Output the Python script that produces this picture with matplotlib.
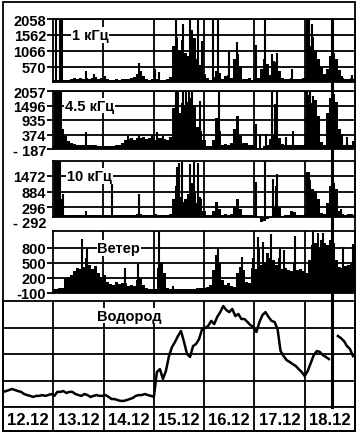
import matplotlib
matplotlib.use("Agg")
import matplotlib.pyplot as plt
import numpy as np
from matplotlib.lines import Line2D
from matplotlib.patches import Rectangle

plt.rcParams["font.family"] = ["Liberation Sans", "DejaVu Sans"]
plt.rcParams["font.weight"] = "bold"

# time axis in days since 12.12 00:00, 0.06 day sampling
t_top = 1 + 0.06 * np.arange(101)
t_h2 = 0.06 * np.arange(117)
dates = ["12.12", "13.12", "14.12", "15.12", "16.12", "17.12", "18.12"]
event_day = 6.54

# ---- 1 kHz
f1_vals = [150, 150, 150, 150, 140, 160, 180, 200, 170, 220, 190, 230, 180, 210, 250, 170, 200, 230, 180, 160,
           150, 170, 160, 180, 190, 170, 200, 240, 330, 420, 280, 180, 160, 170, 190, 170, 150, 160, 180, 260,
           1200, 1500, 1100, 1400, 1000, 900, 1700, 1450, 800, 620, 330, 200, 160, 250, 430, 380, 170, 280, 320, 200,
           800, 950, 600, 180, 170, 200, 160, 190, 220, 500, 800, 650, 300, 750, 700, 420, 220, 180, 170, 200,
           180, 190, 170, 200, 220, 1200, 1500, 1100, 800, 550, 350, 500, 900, 1000, 800, 450, 220, 180, 170, 200,
           190]
f1_spk_t = [1.06, 1.13, 1.18, 1.66, 1.82, 2.04, 2.71, 3.03, 3.11, 3.45, 3.59, 3.73, 3.89, 3.97, 4.17, 4.27,
            4.49, 4.65, 5.03, 5.21, 5.35, 5.45, 5.74, 6.04, 6.08, 6.14, 6.74, 6.94]
f1_spk_v = [2058, 2058, 2058, 430, 340, 280, 680, 500, 400, 2058, 1900, 2058, 2058, 1370, 2058, 2058,
            1060, 1340, 1250, 2058, 960, 990, 500, 2058, 2058, 1900, 280, 300]

# ---- 4.5 kHz
f2_vals = [-60, 800, 900, 600, 300, 120, 40, 0, -20, -30, -40, -40, -50, -50, -50, -60, -60, -60, -70, -70,
           -60, -50, -40, 60, 150, 200, 240, 180, 250, 220, 260, 200, 230, 250, 180, 220, 250, 200, 150, 280,
           1400, 1700, 1200, 1600, 1500, 1650, 1800, 1500, 650, 500, 150, -60, -80, 150, 1000, 500, -40, 0, -30, 30,
           600, 1100, 300, 30, 60, -20, -40, -100, -180, -150, -80, -20, 200, 350, 400, 250, 0, -30, -40, -30,
           -40, -40, -30, -40, 400, 1900, 1600, 1700, 1100, 100, -40, 1200, 1800, 1950, 1650, 600, -30, -40, -30, -40,
           -40]
f2_spk_t = [1.04, 1.08, 1.12, 1.16, 1.66, 2.49, 2.71, 2.97, 3.07, 3.19, 3.45, 3.49, 3.59, 3.65, 3.71, 3.77,
            3.93, 4.29, 5.03, 5.11, 5.23, 5.35, 5.41, 5.45, 5.63, 5.76, 6.04, 6.10, 6.16, 6.74, 6.84, 6.96]
f2_spk_v = [2057, 2057, 2057, 2057, 470, 300, 370, 350, 470, 300, 2057, 2057, 2057, 2057, 2057, 2057,
            1670, 2057, 780, 390, 390, 2000, 1550, 2000, 280, 510, 2057, 2057, 1860, 390, 280, 120]

# ---- 10 kHz
f3_vals = [10, 10, 10, 300, 20, 10, 10, 15, 10, 10, 20, 30, 25, 20, 30, 25, 20, 15, 25, 20,
           10, 15, 10, 20, 15, 25, 20, 30, 40, 60, 30, 20, 10, 20, 60, 30, 20, 15, 20, 40,
           600, 1100, 700, 500, 600, 800, 1200, 850, 450, 600, 150, 20, 15, 150, 500, 250, 15, 60, 20, 40,
           300, 600, 250, 20, 15, 20, 10, 0, -100, -230, -200, -140, -80, 300, 500, 300, -20, 0, 20, 150,
           120, 30, 25, 30, 40, 1300, 1000, 900, 600, 80, 60, 450, 1100, 1200, 1000, 150, 60, 30, 50, 40,
           30]
f3_spk_t = [1.04, 1.08, 1.11, 1.14, 1.18, 1.20, 1.66, 2.18, 2.71, 3.47, 3.51, 3.57, 3.73, 3.81, 3.89, 3.93,
            5.03, 5.21, 5.37, 5.43, 5.45, 6.04, 6.08, 6.72]
f3_spk_v = [2023, 2023, 2023, 2023, 610, 800, 160, 1430, 800, 1800, 1950, 1990, 1910, 1990, 1950, 680,
            1240, 2023, 1350, 1090, 1540, 1610, 1610, 240]

# ---- wind
w_vals = [-20, -20, -10, 0, 170, 210, 250, 330, 400, 380, 420, 600, 450, 380, 430, 300, 220, 260, 110, 80,
          60, 120, 70, 90, 100, 40, 60, 30, 150, 200, 60, 0, -20, -30, -20, 400, 500, 300, -10, -20,
          -20, -30, -30, -30, -30, -30, -30, -20, -10, 0, -10, 20, 60, 350, 650, 500, 150, 60, 100, 40,
          20, 300, 420, 350, 120, 100, 400, 380, 800, 450, 500, 700, 600, 560, 450, 600, 380, 400, 350, 330,
          500, 350, 380, 330, 300, 550, 850, 900, 800, 950, 900, 850, 950, 900, 550, 420, 400, 430, 450, 480,
          550]
w_spk_t = [1.58, 1.68, 2.44, 2.69, 3.11, 3.39, 4.27, 4.75, 4.97, 5.07, 5.17, 5.33, 5.50, 5.58, 5.80,
           6.16, 6.26, 6.36, 6.76, 6.96]
w_spk_v = [980, 780, 390, 480, 1130, 30, 780, 620, 600, 1010, 920, 1080, 820, 760, 1040,
           1130, 1100, 1100, 820, 880]

# ---- hydrogen (relative units, 4 grid bands)
h2_vals = [0.57, 0.60, 0.64, 0.68, 0.64, 0.60, 0.57, 0.49, 0.45, 0.42, 0.38, 0.42, 0.42, 0.45, 0.42, 0.45,
           0.49, 0.42, 0.57, 0.57, 0.60, 0.53, 0.57, 0.57, 0.49, 0.45, 0.42, 0.49, 0.45, 0.38, 0.42, 0.45,
           0.42, 0.42, 0.45, 0.38, 0.30, 0.30, 0.26, 0.23, 0.23, 0.26, 0.30, 0.34, 0.42, 0.45, 0.45, 0.49,
           0.45, 0.42, 0.38, 1.32, 1.43, 1.06, 1.36, 1.92, 2.26, 2.45, 2.68, 2.87, 2.45, 2.00, 1.89, 2.30,
           2.38, 2.57, 2.94, 2.98, 3.06, 3.25, 3.13, 3.40, 3.58, 3.81, 3.66, 3.58, 3.70, 3.43, 3.51, 3.32,
           3.32, 3.21, 3.09, 3.02, 2.83, 3.21, 3.47, 3.58, 3.40, 3.25, 3.21, 2.94, 2.11, 1.92, 1.77, 1.70,
           1.62, 1.55, 1.43, 1.32, 1.17, 1.36, 1.66, 1.96, 2.11, 2.08, 1.96, 1.89, 1.81, np.nan, np.nan, 2.68,
           2.60, 2.49, 2.30, 2.19, 1.92]

W, H = 360, 435
fig = plt.figure(figsize=(W / 100, H / 100), dpi=100)


def box(x0, y0, x1, y1):
    return [x0 / W, 1 - y1 / H, (x1 - x0) / W, (y1 - y0) / H]


panels = [
    (box(53, 20, 355, 83), f1_vals, f1_spk_t, f1_spk_v, (90, 2058), [2058, 1562, 1066, 570],
     ["2058", "1562", "1066", "570"], "1 кГц", 1.38, 1562),
    (box(53, 92, 355, 150), f2_vals, f2_spk_t, f2_spk_v, (-187, 2057), [2057, 1496, 935, 374, -187],
     ["2057", "1496", "935", "374", "- 187"], "4.5 кГц", 1.24, 1496),
    (box(53, 162, 355, 218), f3_vals, f3_spk_t, f3_spk_v, (-60, 2023), [1472, 884, 296],
     ["1472", "884", "296"], "10 кГц", 1.28, 1472),
    (box(53, 232, 355, 294), w_vals, w_spk_t, w_spk_v, (-105, 1140), [800, 500, 200, -100],
     ["800", "500", "200", "-100"], "Ветер", 1.88, 800),
]

axes = []
for pos, vals, st, sv, ylim, ticks, labels, name, lx, ly in panels:
    ax = fig.add_axes(pos)
    ax.set_xlim(1, 7)
    ax.set_ylim(*ylim)
    ax.fill_between(t_top, ylim[0], vals, step="mid", color="black", lw=0,
                    clip_on=(name != "10 кГц"))
    ax.vlines(st, ylim[0], sv, color="black", lw=1.5)
    ax.set_yticks(ticks)
    ax.set_yticklabels(labels)
    ax.set_xticks([])
    for d in range(2, 7):
        ax.axvline(d, color="black", lw=1.3, zorder=1)
    for v in ticks:
        ax.axhline(v, color="black", lw=1.3, zorder=1)
    ax.tick_params(axis="y", length=4, width=1.3, pad=1, labelsize=10.5)
    for s in ax.spines.values():
        s.set_linewidth(1.3)
    ax.text(lx, ly, name, fontsize=10.5, fontweight="bold", va="center", ha="left", zorder=5,
            bbox=dict(facecolor="white", edgecolor="none", pad=0.5))
    axes.append(ax)

axes[2].annotate("- 292", xy=(0, -292), xycoords=("axes fraction", "data"), xytext=(-5, 0),
                 textcoords="offset points", ha="right", va="center", fontsize=10.5,
                 fontweight="bold", annotation_clip=False)

# hydrogen panel
axh = fig.add_axes(box(3, 302, 355, 408))
axh.set_xlim(0, 7)
axh.set_ylim(0, 4)
axh.plot(t_h2, h2_vals, color="black", lw=1.8)
for d in range(1, 7):
    axh.axvline(d, color="black", lw=1.3, zorder=1)
for v in (1, 2, 3):
    axh.axhline(v, color="black", lw=1.3, zorder=1)
axh.set_xticks([])
axh.set_yticks([])
for s in axh.spines.values():
    s.set_linewidth(1.3)
axh.text(1.87, 3.45, "Водород", fontsize=10.5, fontweight="bold", va="center", ha="left", zorder=5,
         bbox=dict(facecolor="white", edgecolor="none", pad=0.5))

# date row
axd = fig.add_axes(box(3, 408, 355, 432))
axd.set_xlim(0, 7)
axd.set_ylim(0, 1)
for d in range(1, 7):
    axd.axvline(d, color="black", lw=1.3)
for i, lab in enumerate(dates):
    axd.text(i + 0.5, 0.48, lab, ha="center", va="center", fontsize=12, fontweight="bold")
axd.set_xticks([])
axd.set_yticks([])
for s in axd.spines.values():
    s.set_linewidth(1.3)

# event marker through all panels
inv = fig.transFigure.inverted()
xf = inv.transform(axes[0].transData.transform((event_day, 0)))[0]
yt = inv.transform(axes[0].transAxes.transform((0, 1)))[1]
yb = inv.transform(axh.transAxes.transform((0, 0)))[1]
fig.add_artist(Line2D([xf, xf], [yb, yt], color="black", lw=2.2, transform=fig.transFigure))

fig.add_artist(Rectangle((3 / W, 1 - 432 / H), 352 / W, 429 / H, transform=fig.transFigure,
                         fill=False, lw=1.3, color="black"))

fig.savefig("out.png", dpi=100, facecolor="white")
